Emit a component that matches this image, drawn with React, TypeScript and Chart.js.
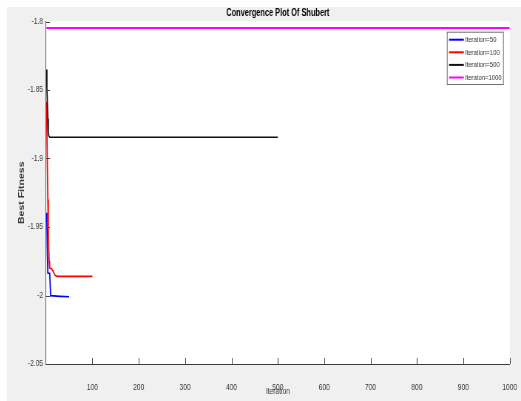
import { useEffect, useRef } from "react";
import { Chart, registerables } from "chart.js";

Chart.register(...registerables);

// ---- text ----
const chartTitle = "Convergence Plot Of Shubert";
const xAxisTitle = "Iteration";
const yAxisTitle = "Best Fitness";

// ---- axes ----
const xMin = 0;
const xMax = 1000;
const xTicks = [100, 200, 300, 400, 500, 600, 700, 800, 900, 1000];
const yMin = -2.05;
const yMax = -1.8;
const yTicks = [-2.05, -2, -1.95, -1.9, -1.85, -1.8];

// ---- series ----
const seriesLabels = ["Iteration=50", "Iteration=100", "Iteration=500", "Iteraton=1000"];
const seriesColors = ["#0000ff", "#ff0000", "#111111", "#ff00ff"];

const iter50 = [1, 2, 3, 4, 8, 10, 30, 50];
const fit50 = [-1.9396, -1.947, -1.97, -1.9836, -1.9838, -2.0001, -2.0006, -2.0009];

const iter100 = [1, 2, 3, 4, 5, 6, 7, 8, 12, 15, 19, 23, 100];
const fit100 = [-1.8585, -1.88, -1.905, -1.93, -1.952, -1.966, -1.975, -1.98, -1.9805, -1.982, -1.985, -1.986, -1.986];

const iter500 = [1, 2, 3, 4, 5, 6, 8, 500];
const fit500 = [-1.835, -1.848, -1.86, -1.871, -1.88, -1.8835, -1.8845, -1.8845];

const iter1000 = [1, 1000];
const fit1000 = [-1.8047, -1.8047];

// figure is drawn wide and shown squeezed horizontally
const SQUEEZE = 0.74;
const SHOWN_W = 514;
const SHOWN_H = 394;
const CANVAS_W = Math.round(SHOWN_W / SQUEEZE);

const FONT = "'Liberation Sans', Arial, Helvetica, sans-serif";

const toPoints = (xs: number[], ys: number[]) => xs.map((x, i) => ({ x, y: ys[i] }));

const backgroundPlugin = {
  id: "figureBackground",
  beforeDraw(chart: any) {
    const { ctx, chartArea } = chart;
    ctx.save();
    ctx.fillStyle = "#f0f0f0";
    ctx.fillRect(0, 0, chart.width, chart.height);
    ctx.fillStyle = "#ffffff";
    ctx.fillRect(chartArea.left, chartArea.top, chartArea.right - chartArea.left, chartArea.bottom - chartArea.top);
    ctx.restore();
  },
};

// tick marks pointing into the axes
const innerTicksPlugin = {
  id: "innerTicks",
  afterDatasetsDraw(chart: any) {
    const { ctx, chartArea, scales } = chart;
    const len = 6;
    ctx.save();
    ctx.strokeStyle = "#444444";
    ctx.lineWidth = 1;
    ctx.beginPath();
    for (const v of xTicks) {
      const px = Math.round(scales.x.getPixelForValue(v)) + 0.5;
      ctx.moveTo(px, chartArea.bottom);
      ctx.lineTo(px, chartArea.bottom - len);
    }
    for (const v of yTicks) {
      const py = Math.round(scales.y.getPixelForValue(v)) + 0.5;
      ctx.moveTo(chartArea.left, py);
      ctx.lineTo(chartArea.left + len * 0.9, py);
    }
    ctx.stroke();
    ctx.restore();
  },
};

// boxed legend in the upper right corner
const boxLegendPlugin = {
  id: "boxLegend",
  afterDraw(chart: any) {
    const { ctx, chartArea } = chart;
    const right = chartArea.right - 8;
    const left = right - 77;
    const top = chartArea.top + 10.2;
    const rowH = 12.6;
    const height = 53.3;
    ctx.save();
    ctx.fillStyle = "#ffffff";
    ctx.fillRect(left, top, right - left, height);
    ctx.strokeStyle = "#6e6e6e";
    ctx.lineWidth = 1;
    ctx.strokeRect(left + 0.5, top + 0.5, right - left - 1, height - 1);
    ctx.font = `8px ${FONT}`;
    ctx.textBaseline = "middle";
    ctx.textAlign = "left";
    chart.data.datasets.forEach((ds: any, i: number) => {
      const y = top + 8 + i * rowH;
      ctx.strokeStyle = ds.borderColor;
      ctx.lineWidth = 2;
      ctx.beginPath();
      ctx.moveTo(left + 3, y);
      ctx.lineTo(left + 23, y);
      ctx.stroke();
      ctx.fillStyle = "#333333";
      ctx.fillText(ds.label, left + 24.5, y);
    });
    ctx.restore();
  },
};

export default function App() {
  const canvasRef = useRef<HTMLCanvasElement | null>(null);

  useEffect(() => {
    const canvas = canvasRef.current;
    if (!canvas) return;
    const series = [
      toPoints(iter50, fit50),
      toPoints(iter100, fit100),
      toPoints(iter500, fit500),
      toPoints(iter1000, fit1000),
    ];
    const chart = new Chart(canvas, {
      type: "line",
      data: {
        datasets: series.map((pts, i) => ({
          label: seriesLabels[i],
          data: pts,
          borderColor: seriesColors[i],
          backgroundColor: seriesColors[i],
          borderWidth: i === 3 ? 2 : 1.7,
          pointRadius: 0,
          tension: 0,
          fill: false,
          order: 4 - i,
        })),
      },
      options: {
        animation: false,
        responsive: false,
        devicePixelRatio: 1,
        parsing: false,
        layout: { padding: { left: 0, right: 15.3, top: 0, bottom: 0 } },
        plugins: {
          legend: { display: false },
          tooltip: { enabled: false },
          title: {
            display: true,
            text: chartTitle,
            fullSize: false,
            color: "#000000",
            font: { family: FONT, size: 10, weight: "bold" },
            padding: { top: 0, bottom: 2.5 },
          },
        },
        scales: {
          x: {
            type: "linear",
            min: xMin,
            max: xMax,
            afterBuildTicks: (s: any) => {
              s.ticks = xTicks.map((v) => ({ value: v }));
            },
            afterFit: (s: any) => {
              s.height = 37;
              s.paddingLeft = 0;
              s.paddingRight = 0;
            },
            grid: { display: false, drawTicks: false },
            border: { display: true, color: "#3c3c3c", width: 1 },
            ticks: {
              color: "#3a3a3a",
              font: { family: FONT, size: 9 },
              padding: 18.5,
              maxRotation: 0,
              autoSkip: false,
              callback: (v: any) => String(v),
            },
            title: {
              display: true,
              text: xAxisTitle,
              color: "#3a3a3a",
              font: { family: FONT, size: 9 },
              padding: { top: 3.6, bottom: 3.6 },
            },
          },
          y: {
            type: "linear",
            min: yMin,
            max: yMax,
            afterBuildTicks: (s: any) => {
              s.ticks = yTicks.map((v) => ({ value: v }));
            },
            afterFit: (s: any) => {
              s.width = 52.7;
              s.paddingTop = 0;
              s.paddingBottom = 0;
            },
            grid: { display: false, drawTicks: false },
            border: { display: true, color: "#555555", width: 1 },
            ticks: {
              color: "#3a3a3a",
              font: { family: FONT, size: 9 },
              padding: 4,
              autoSkip: false,
              callback: (v: any) => String(v),
            },
            title: {
              display: true,
              text: yAxisTitle,
              color: "#3a3a3a",
              font: { family: FONT, size: 10.5, weight: "bold" },
              padding: { top: 14, bottom: 0 },
            },
          },
        },
      },
      plugins: [backgroundPlugin, innerTicksPlugin, boxLegendPlugin],
    } as any);
    return () => chart.destroy();
  }, []);

  return (
    <div style={{ position: "absolute", left: 7, top: 7, width: SHOWN_W, height: SHOWN_H, overflow: "hidden", background: "#f0f0f0" }}>
      <canvas
        ref={canvasRef}
        width={CANVAS_W}
        height={SHOWN_H}
        style={{ display: "block", width: SHOWN_W, height: SHOWN_H }}
      />
    </div>
  );
}
